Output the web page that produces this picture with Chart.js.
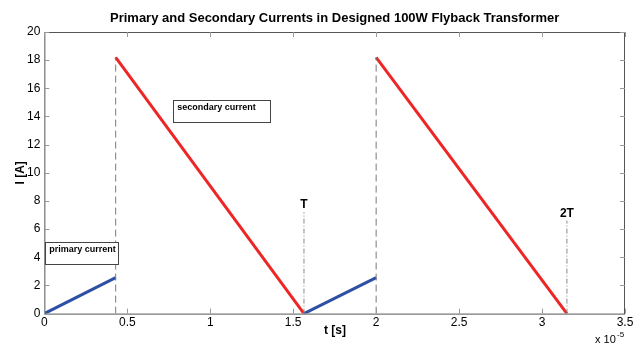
<!DOCTYPE html>
<html><head><meta charset="utf-8">
<script src="https://cdn.jsdelivr.net/npm/chart.js@4.4.1/dist/chart.umd.min.js"></script>
<style>html,body{margin:0;padding:0;background:#fff}#wrap{width:636px;height:344px}</style>
</head><body><div id="wrap"><canvas id="c" width="636" height="344"></canvas></div>
<script>
// time in units of 1e-5 s, current in A
const primaryT1 = [0, 0.43];
const primaryI1 = [0, 2.55];
const primaryT2 = [1.565, 2.0];
const primaryI2 = [0, 2.55];
const secondaryT1 = [0.43, 1.565];
const secondaryI1 = [18.2, 0];
const secondaryT2 = [2.0, 3.15];
const secondaryI2 = [18.2, 0];
const switchT = [0.43, 2.0];
const switchTop = [18.2, 18.2];
const periodT = [1.565, 3.15];
const periodTop = [7.2, 6.6];
const periodLabels = ["T", "2T"];
const xTicks = [0, 0.5, 1, 1.5, 2, 2.5, 3, 3.5];
const yTicks = [0, 2, 4, 6, 8, 10, 12, 14, 16, 18, 20];
const boxLabels = ["primary current", "secondary current"];
const boxX = [[0.005, 0.447], [0.777, 1.36]];
const boxY = [[5.05, 3.5], [15.15, 13.6]];

const pts = (xs, ys) => xs.map((x, i) => ({x, y: ys[i]}));
const ds = [];
switchT.forEach((t, i) => ds.push({data: [{x: t, y: 0}, {x: t, y: switchTop[i]}], borderColor: '#7a7a7a', borderWidth: 1, borderDash: [7, 4], pointRadius: 0}));
periodT.forEach((t, i) => ds.push({data: [{x: t, y: 0}, {x: t, y: periodTop[i]}], borderColor: '#8a8a8a', borderWidth: 1, borderDash: [5, 2, 1, 2], pointRadius: 0}));
ds.push({data: pts(primaryT1, primaryI1), borderColor: '#2e4fa6', borderWidth: 3, pointRadius: 0});
ds.push({data: pts(primaryT2, primaryI2), borderColor: '#2e4fa6', borderWidth: 3, pointRadius: 0});
ds.push({data: pts(secondaryT1, secondaryI1), borderColor: '#ee2525', borderWidth: 3, pointRadius: 0});
ds.push({data: pts(secondaryT2, secondaryI2), borderColor: '#ee2525', borderWidth: 3, pointRadius: 0});

const FONT = 'Liberation Sans, Arial, sans-serif';
const deco = {
  id: 'deco',
  afterDraw(chart) {
    const {ctx, chartArea: a, scales: {x, y}} = chart;
    ctx.save();
    ctx.strokeStyle = '#555'; ctx.lineWidth = 1;
    ctx.strokeRect(a.left + 0.5, a.top + 0.5, a.right - a.left - 1, a.bottom - a.top);
    ctx.strokeStyle = '#999';
    ctx.beginPath();
    xTicks.forEach(v => { const px = Math.round(x.getPixelForValue(v)) + 0.5;
      ctx.moveTo(px, a.bottom); ctx.lineTo(px, a.bottom - 5);
      ctx.moveTo(px, a.top); ctx.lineTo(px, a.top + 5); });
    yTicks.forEach(v => { const py = Math.round(y.getPixelForValue(v)) + 0.5;
      ctx.moveTo(a.left, py); ctx.lineTo(a.left + 5, py);
      ctx.moveTo(a.right, py); ctx.lineTo(a.right - 5, py); });
    ctx.stroke();
    ctx.fillStyle = '#000';
    ctx.font = 'bold 13px ' + FONT;
    ctx.textAlign = 'center'; ctx.textBaseline = 'alphabetic';
    ctx.fillText('Primary and Secondary Currents in Designed 100W Flyback Transformer', (a.left + a.right) / 2, 22);
    ctx.font = 'bold 12px ' + FONT;
    ctx.fillText('t [s]', 335, 334);
    ctx.save();
    ctx.translate(24, (a.top + a.bottom) / 2);
    ctx.rotate(-Math.PI / 2);
    ctx.fillText('I [A]', 0, 0);
    ctx.restore();
    ctx.font = 'bold 12px ' + FONT;
    periodT.forEach((t, i) => ctx.fillText(periodLabels[i], x.getPixelForValue(t), y.getPixelForValue(periodTop[i]) - 4));
    ctx.font = '11px ' + FONT; ctx.textAlign = 'left';
    ctx.fillText('x 10', a.right - 30, a.bottom + 29);
    ctx.font = '8px ' + FONT;
    ctx.fillText('-5', a.right - 8, a.bottom + 23);
    boxLabels.forEach((lab, i) => {
      const l = x.getPixelForValue(boxX[i][0]), r = x.getPixelForValue(boxX[i][1]);
      const t = y.getPixelForValue(boxY[i][0]), b = y.getPixelForValue(boxY[i][1]);
      ctx.fillStyle = '#fff'; ctx.fillRect(l, t, r - l, b - t);
      ctx.strokeStyle = '#444'; ctx.lineWidth = 1;
      ctx.strokeRect(Math.round(l) + 0.5, Math.round(t) + 0.5, Math.round(r - l), Math.round(b - t));
      ctx.fillStyle = '#000'; ctx.font = 'bold 9px ' + FONT; ctx.textAlign = 'left';
      ctx.fillText(lab, l + 4, t + 10);
    });
    ctx.restore();
  }
};

new Chart(document.getElementById('c'), {
  type: 'line',
  data: {datasets: ds},
  options: {
    responsive: false, animation: false,
    layout: {padding: {left: 23, right: 11, top: 32, bottom: 12}},
    plugins: {legend: {display: false}, tooltip: {enabled: false}, title: {display: false}},
    scales: {
      x: {type: 'linear', min: 0, max: 3.5,
        afterBuildTicks: s => { s.ticks = xTicks.map(v => ({value: v})); },
        grid: {display: false, drawTicks: false}, border: {display: false},
        ticks: {color: '#000', font: {family: FONT, size: 12}, padding: 2, callback: v => String(v)}},
      y: {type: 'linear', min: 0, max: 20,
        afterBuildTicks: s => { s.ticks = yTicks.map(v => ({value: v})); },
        grid: {display: false, drawTicks: false}, border: {display: false},
        ticks: {color: '#000', font: {family: FONT, size: 12}, padding: 4}}
    }
  },
  plugins: [deco]
});
</script></body></html>
